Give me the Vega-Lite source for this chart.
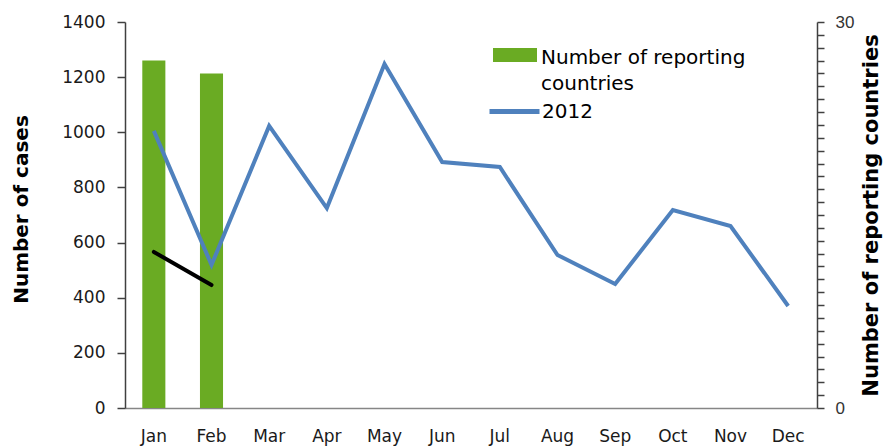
{
  "$schema": "https://vega.github.io/schema/vega-lite/v6.json",
  "width": 692,
  "height": 386,
  "autosize": {"type": "none"},
  "padding": {"left": 125, "top": 22, "right": 69, "bottom": 38},
  "background": "white",
  "config": {"view": {"stroke": null}, "font": "DejaVu Sans"},
  "data": {
    "values": [
      {"month": "Jan", "countries": 27, "cases2012": 1005, "cases2013": 566},
      {"month": "Feb", "countries": 26, "cases2012": 519, "cases2013": 446},
      {"month": "Mar", "countries": null, "cases2012": 1023, "cases2013": null},
      {"month": "Apr", "countries": null, "cases2012": 725, "cases2013": null},
      {"month": "May", "countries": null, "cases2012": 1248, "cases2013": null},
      {"month": "Jun", "countries": null, "cases2012": 892, "cases2013": null},
      {"month": "Jul", "countries": null, "cases2012": 874, "cases2013": null},
      {"month": "Aug", "countries": null, "cases2012": 555, "cases2013": null},
      {"month": "Sep", "countries": null, "cases2012": 450, "cases2013": null},
      {"month": "Oct", "countries": null, "cases2012": 718, "cases2013": null},
      {"month": "Nov", "countries": null, "cases2012": 660, "cases2013": null},
      {"month": "Dec", "countries": null, "cases2012": 370, "cases2013": null}
    ]
  },
  "encoding": {
    "x": {
      "field": "month",
      "type": "ordinal",
      "sort": null,
      "scale": {"paddingInner": 0.6, "paddingOuter": 0.3},
      "axis": {
        "title": null,
        "labelAngle": 0,
        "ticks": false,
        "tickSize": 0,
        "labelPadding": 20,
        "labelFontSize": 17,
        "labelColor": "#1a1a1a",
        "domainColor": "#868686",
        "domainWidth": 1.5
      }
    }
  },
  "layer": [
    {
      "mark": {"type": "bar"},
      "encoding": {
        "y": {
          "field": "countries",
          "type": "quantitative",
          "scale": {"domain": [0, 30], "nice": false},
          "axis": {
            "orient": "right",
            "title": "Number of reporting countries",
            "titleFontSize": 21,
            "titleFontWeight": "bold",
            "titleColor": "#000000",
            "titleAngle": -90,
            "titleBaseline": "top",
            "titlePadding": 7,
            "values": [0,1,2,3,4,5,6,7,8,9,10,11,12,13,14,15,16,17,18,19,20,21,22,23,24,25,26,27,28,29,30],
            "labelExpr": "datum.value == 0 || datum.value == 30 ? datum.label : ''",
            "labelFont": "Liberation Sans",
            "labelFontSize": 17,
            "labelColor": "#333333",
            "labelPadding": 11,
            "labelOverlap": false,
            "labelBound": false,
            "labelFlush": false,
            "tickSize": 7,
            "tickColor": "#404040",
            "domainColor": "#404040",
            "domainWidth": 1.5,
            "tickWidth": 1.5,
            "grid": false
          }
        },
        "fill": {
          "datum": "Number of reporting countries",
          "scale": {"range": ["#6AAB23"]},
          "legend": {
            "title": null,
            "orient": "none",
            "legendX": 368,
            "legendY": 11,
            "padding": 0,
            "symbolType": "M-1,-0.318H1V0.318H-1Z",
            "symbolSize": 1936,
            "symbolStrokeWidth": 0,
            "labelFontSize": 20,
            "labelColor": "#000000",
            "labelOffset": 4,
            "labelLimit": 400,
            "labelBaseline": "alphabetic",
            "labelExpr": "['Number of reporting', 'countries']",
            "encode": {"labels": {"update": {"dy": {"value": 9}, "lineHeight": {"value": 26}}}}
          }
        }
      }
    },
    {
      "layer": [
        {
          "mark": {"type": "line", "strokeWidth": 4},
          "encoding": {
            "y": {
              "field": "cases2012",
              "type": "quantitative",
              "scale": {"domain": [0, 1400], "nice": false},
              "axis": {
                "orient": "left",
                "title": "Number of cases",
                "titleFontSize": 20,
                "titleFontWeight": "bold",
                "titleColor": "#000000",
                "titlePadding": 30,
                "titleY": 187,
                "values": [0, 200, 400, 600, 800, 1000, 1200, 1400],
                "format": "d",
                "labelFontSize": 17,
                "labelColor": "#1a1a1a",
                "labelPadding": 12,
                "tickSize": 8,
                "tickColor": "#404040",
                "tickWidth": 1.5,
                "domainColor": "#404040",
                "domainWidth": 1.5,
                "grid": false
              }
            },
            "stroke": {
              "datum": "2012",
              "scale": {"range": ["#4F81BD"]},
              "legend": {
                "title": null,
                "orient": "none",
                "legendX": 362,
                "legendY": 62,
                "padding": 0,
                "symbolType": "stroke",
                "symbolSize": 2500,
                "symbolStrokeWidth": 5,
                "labelFontSize": 20,
                "labelColor": "#000000",
                "labelOffset": 0
              }
            }
          }
        },
        {
          "mark": {"type": "line", "strokeWidth": 4, "color": "#000000", "strokeCap": "round"},
          "encoding": {
            "y": {"field": "cases2013", "type": "quantitative"}
          }
        }
      ]
    }
  ],
  "resolve": {"scale": {"y": "independent"}}
}
